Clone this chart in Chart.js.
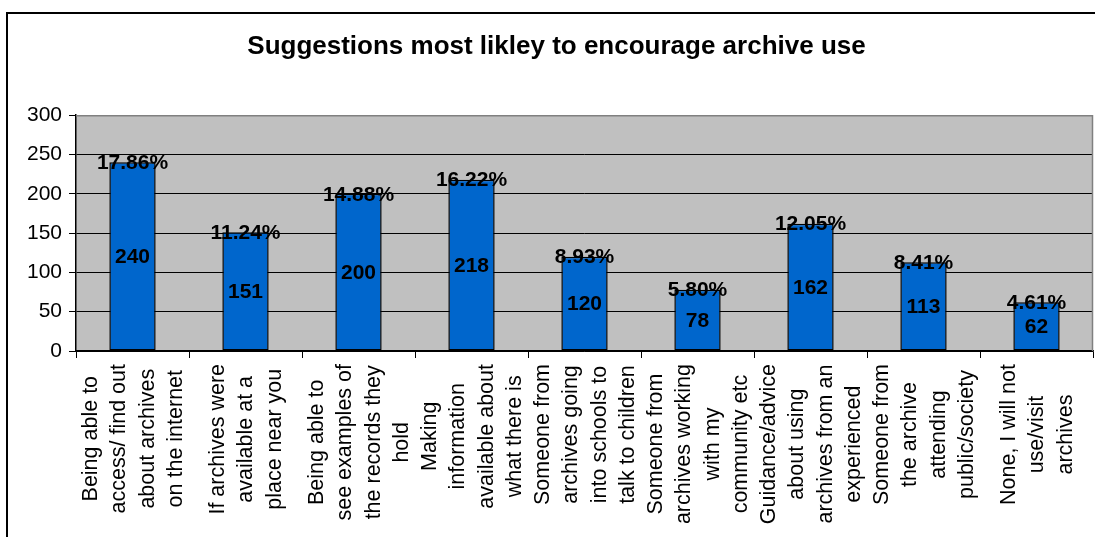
<!DOCTYPE html>
<html>
<head>
<meta charset="utf-8">
<script src="https://cdn.jsdelivr.net/npm/chart.js@4/dist/chart.umd.min.js"></script>
<style>
  html, body { margin: 0; padding: 0; background: #fff; }
  canvas { display: block; }
</style>
</head>
<body>
<canvas id="chart" width="1095" height="537"></canvas>
<script>
const FONT = '"Liberation Sans", Arial, sans-serif';

const categories = [
  ['Being able to', 'access/ find out', 'about archives', 'on the internet'],
  ['If archives were', 'available at a', 'place near you'],
  ['Being able to', 'see examples of', 'the records they', 'hold'],
  ['Making', 'information', 'available about', 'what there is'],
  ['Someone from', 'archives going', 'into schools to', 'talk to children'],
  ['Someone from', 'archives working', 'with my', 'community etc'],
  ['Guidance/advice', 'about using', 'archives from an', 'experienced'],
  ['Someone from', 'the archive', 'attending', 'public/society'],
  ['None, I will not', 'use/visit', 'archives']
];
const responses = [240, 151, 200, 218, 120, 78, 162, 113, 62];
const shares = [17.86, 11.24, 14.88, 16.22, 8.93, 5.80, 12.05, 8.41, 4.61];
const yTicks = [0, 50, 100, 150, 200, 250, 300];

// white page, outer frame, grey plot area
const backdrop = {
  id: 'backdrop',
  beforeDraw(chart) {
    const { ctx, chartArea: a } = chart;
    ctx.save();
    ctx.fillStyle = '#fff';
    ctx.fillRect(0, 0, chart.width, chart.height);
    ctx.strokeStyle = '#000';
    ctx.lineWidth = 2;
    ctx.strokeRect(7, 13, 1200, 600);
    ctx.fillStyle = '#c0c0c0';
    ctx.fillRect(a.left, a.top, a.right - a.left, a.bottom - a.top);
    ctx.restore();
  },
  afterDraw(chart) {
    const { ctx, chartArea: a } = chart;
    ctx.save();
    ctx.strokeStyle = '#808080';
    ctx.lineWidth = 1.5;
    ctx.beginPath();
    ctx.moveTo(a.left, a.top + 0.5);
    ctx.lineTo(a.right - 0.5, a.top + 0.5);
    ctx.lineTo(a.right - 0.5, a.bottom);
    ctx.stroke();
    ctx.restore();
  }
};

// value in the middle of the bar, share on top of it
const barLabels = {
  id: 'barLabels',
  afterDatasetsDraw(chart) {
    const { ctx } = chart;
    const meta = chart.getDatasetMeta(0);
    ctx.save();
    ctx.fillStyle = '#000';
    ctx.font = 'bold 21px ' + FONT;
    ctx.textAlign = 'center';
    ctx.textBaseline = 'middle';
    meta.data.forEach((bar, i) => {
      ctx.fillText(String(responses[i]), bar.x, (bar.y + bar.base) / 2 + 1);
      ctx.fillText(shares[i].toFixed(2) + '%', bar.x, bar.y + 1);
    });
    ctx.restore();
  }
};

// vertical category labels, lines centred on each other
const catLabels = {
  id: 'catLabels',
  afterDraw(chart) {
    const { ctx } = chart;
    const x = chart.scales.x;
    const lineGap = 28.5;
    ctx.save();
    ctx.fillStyle = '#000';
    ctx.font = '21.5px ' + FONT;
    ctx.textAlign = 'center';
    ctx.textBaseline = 'middle';
    categories.forEach((lines, i) => {
      const cx = x.getPixelForValue(i);
      const maxW = Math.max(...lines.map(l => ctx.measureText(l).width));
      const cy = x.top + 13 + maxW / 2;
      lines.forEach((line, j) => {
        ctx.save();
        ctx.translate(cx + (j - (lines.length - 1) / 2) * lineGap + 1, cy);
        ctx.rotate(-Math.PI / 2);
        ctx.fillText(line, 0, 0);
        ctx.restore();
      });
    });
    ctx.restore();
  }
};

new Chart(document.getElementById('chart'), {
  type: 'bar',
  data: {
    labels: categories.map(c => c.join(' ')),
    datasets: [{
      data: responses,
      backgroundColor: '#0066cc',
      borderColor: '#000',
      borderWidth: 1.5,
      borderSkipped: false,
      categoryPercentage: 1,
      barPercentage: 0.41
    }]
  },
  options: {
    responsive: false,
    animation: false,
    layout: { padding: { left: 20, right: 2, top: 0, bottom: 0 } },
    plugins: {
      legend: { display: false },
      tooltip: { enabled: false },
      title: {
        display: true,
        text: 'Suggestions most likley to encourage archive use',
        color: '#000',
        font: { family: FONT, size: 26, weight: 'bold' },
        padding: { top: 31, bottom: 53 }
      }
    },
    scales: {
      x: {
        grid: { drawOnChartArea: false, color: '#000', tickLength: 7 },
        border: { color: '#000', width: 1.5 },
        ticks: { display: false },
        afterFit(scale) { scale.height = 186; }
      },
      y: {
        min: 0,
        max: 300,
        afterBuildTicks(scale) { scale.ticks = yTicks.map(v => ({ value: v })); },
        grid: { color: '#000', tickLength: 7 },
        border: { color: '#000', width: 1.5 },
        ticks: {
          color: '#000',
          padding: 7,
          font: { family: FONT, size: 21 }
        },
        afterFit(scale) { scale.width = 56; }
      }
    }
  },
  plugins: [backdrop, barLabels, catLabels]
});
</script>
</body>
</html>
